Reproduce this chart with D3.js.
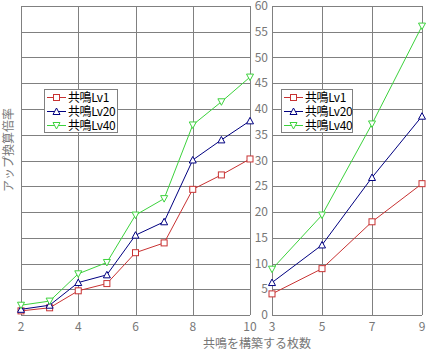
<!DOCTYPE html>
<html>
<head>
<meta charset="utf-8">
<script src="https://cdn.jsdelivr.net/npm/d3@7"></script>
<style>
  body { margin: 0; background: #fff; }
  svg text { font-family: "MS UI Gothic", "Noto Sans CJK JP", sans-serif; }
</style>
</head>
<body>
<div id="vis"></div>
<script>
// left panel: x = 2..10
const leftX = [2, 3, 4, 5, 6, 7, 8, 9, 10];
const leftLv1 = [0.8, 1.4, 4.7, 6.1, 12.1, 14.0, 24.4, 27.2, 30.3];
const leftLv20 = [1.1, 1.9, 6.3, 7.8, 15.5, 18.1, 30.1, 34.0, 37.7];
const leftLv40 = [1.9, 2.7, 8.0, 10.2, 19.4, 22.6, 36.9, 41.4, 46.2];
const leftTicks = [2, 4, 6, 8, 10];

// right panel: x = 3,5,7,9
const rightX = [3, 5, 7, 9];
const rightLv1 = [4.1, 9.0, 18.1, 25.5];
const rightLv20 = [6.3, 13.6, 26.7, 38.6];
const rightLv40 = [8.9, 19.4, 37.1, 56.1];
const rightTicks = [3, 5, 7, 9];

const yTicks = [0, 5, 10, 15, 20, 25, 30, 35, 40, 45, 50, 55, 60];
const seriesNames = ['共鳴Lv1', '共鳴Lv20', '共鳴Lv40'];
const colors = ['#c83232', '#000080', '#3cd23c'];
const symbols = ['square', 'up', 'down'];

const width = 428;
const height = 352;
const gridColor = '#808080';

const svg = d3.select('#vis').append('svg')
    .attr('width', width)
    .attr('height', height);

const y = d3.scaleLinear().domain([0, 60]).range([315, 6]);

function marker(g, sym, color) {
    if (sym === 'square') {
        g.append('rect')
            .attr('x', -3).attr('y', -3)
            .attr('width', 6).attr('height', 6)
            .attr('fill', '#fff')
            .attr('stroke', color);
        return;
    }
    const d = sym === 'down' ? 'M-3.5,-3 L3.5,-3 L0,3.5 Z' : 'M0,-3.5 L3.5,3 L-3.5,3 Z';
    g.append('path')
        .attr('d', d)
        .attr('fill', '#fff')
        .attr('stroke', color);
}

function drawPanel(xs, seriesList, ticks, xDomain, xRange, legendPos) {
    const x = d3.scaleLinear().domain(xDomain).range(xRange);
    const g = svg.append('g');

    // grid
    g.append('g').selectAll('line')
        .data(yTicks)
        .join('line')
        .attr('x1', xRange[0]).attr('x2', xRange[1])
        .attr('y1', d => Math.round(y(d)) + 0.5).attr('y2', d => Math.round(y(d)) + 0.5)
        .attr('stroke', gridColor);
    g.append('g').selectAll('line')
        .data(ticks)
        .join('line')
        .attr('x1', d => Math.round(x(d)) + 0.5).attr('x2', d => Math.round(x(d)) + 0.5)
        .attr('y1', y(60)).attr('y2', y(0))
        .attr('stroke', gridColor);

    // x tick labels
    g.append('g').selectAll('text')
        .data(ticks)
        .join('text')
        .attr('x', d => x(d))
        .attr('y', 331)
        .attr('text-anchor', 'middle')
        .attr('font-size', 12)
        .attr('fill', '#777')
        .text(d => d);

    const line = d3.line()
        .x((d, i) => x(xs[i]))
        .y(d => y(d));

    seriesList.forEach((vals, k) => {
        g.append('path')
            .attr('d', line(vals))
            .attr('fill', 'none')
            .attr('stroke', colors[k])
            .attr('stroke-width', 1);
        vals.forEach((v, i) => {
            const m = g.append('g').attr('transform', `translate(${x(xs[i])},${y(v)})`);
            marker(m, symbols[k], colors[k]);
        });
    });

    // legend
    const lg = g.append('g').attr('transform', `translate(${legendPos[0]},${legendPos[1]})`);
    lg.append('rect')
        .attr('x', 0.5).attr('y', 0.5)
        .attr('width', legendPos[2]).attr('height', 43)
        .attr('fill', '#fff')
        .attr('stroke', gridColor);
    seriesNames.forEach((name, k) => {
        const ry = 8 + k * 14;
        lg.append('line')
            .attr('x1', 3).attr('x2', 22)
            .attr('y1', ry + 0.5).attr('y2', ry + 0.5)
            .attr('stroke', colors[k]);
        const m = lg.append('g').attr('transform', `translate(12.5,${ry + 0.5})`);
        marker(m, symbols[k], colors[k]);
        lg.append('text')
            .attr('x', 24)
            .attr('y', ry + 5)
            .attr('font-size', 12)
            .attr('letter-spacing', -0.4)
            .attr('fill', '#000')
            .text(name);
    });
}

drawPanel(leftX, [leftLv1, leftLv20, leftLv40], leftTicks, [2, 10], [21, 250], [44, 89, 73]);
drawPanel(rightX, [rightLv1, rightLv20, rightLv40], rightTicks, [3, 9], [272, 422], [281, 89, 71]);

// y tick labels between panels
svg.append('g').selectAll('text')
    .data(yTicks)
    .join('text')
    .attr('x', 268)
    .attr('y', d => y(d) + 4)
    .attr('text-anchor', 'end')
    .attr('font-size', 12)
    .attr('fill', '#777')
    .text(d => d);

// axis titles
svg.append('text')
    .attr('transform', 'translate(13,150) rotate(-90)')
    .attr('text-anchor', 'middle')
    .attr('font-size', 12)
    .attr('fill', '#777')
    .text('アップ換算倍率');

svg.append('text')
    .attr('x', 257)
    .attr('y', 348)
    .attr('text-anchor', 'middle')
    .attr('font-size', 12)
    .attr('fill', '#777')
    .text('共鳴を構築する枚数');
</script>
</body>
</html>
